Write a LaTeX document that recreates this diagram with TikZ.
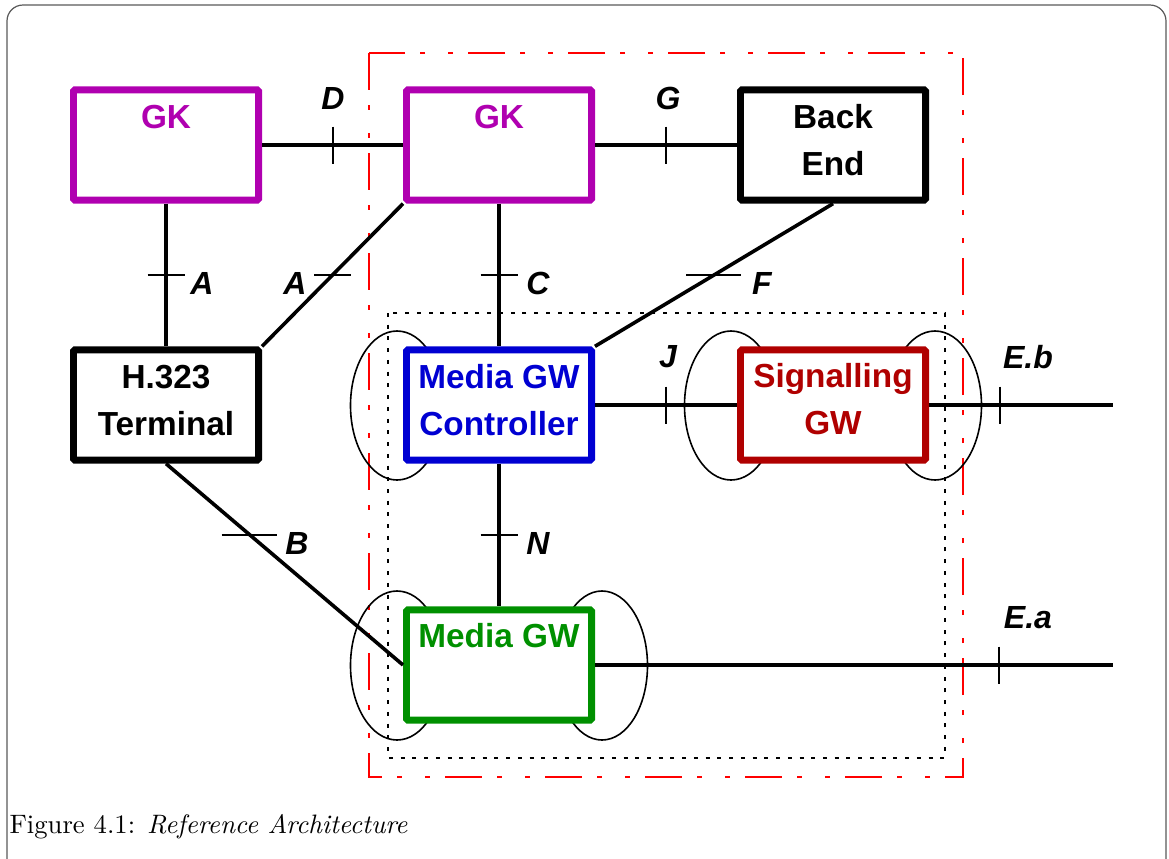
\documentclass[tikz,border=0pt]{standalone}
\usepackage{fontspec}
\newfontfamily\archfont{Liberation Sans}
\usetikzlibrary{positioning}

\definecolor{gkcol}{RGB}{176,0,176}
\definecolor{mgccol}{RGB}{0,0,210}
\definecolor{sigcol}{RGB}{176,0,0}
\definecolor{mgwcol}{RGB}{0,144,0}

\newcommand{\boxfont}{\archfont\bfseries\fontsize{12.5}{17.6}\selectfont}
\newcommand{\reffont}{\archfont\bfseries\itshape\fontsize{12}{14}\selectfont}

\tikzset{
  unit/.style={draw, fill=white, line width=2.6pt, rounded corners=0.6pt,
               minimum width=69.4pt, minimum height=41.4pt, inner sep=0pt},
  unittxt/.style={font=\boxfont, align=center, inner sep=0pt},
  reflbl/.style={font=\reffont, inner sep=0pt},
  conn/.style={line width=1.35pt},
  tick/.style={line width=0.75pt},
  port/.style={line width=0.6pt},
  frame/.style={draw=black!65, line width=0.45pt, rounded corners=6pt}
}

\begin{document}
\begin{tikzpicture}[x=0.375pt,y=-0.375pt]
\useasboundingbox (0,0) rectangle (1169,858);

% outer frame
\draw[frame] (7,5) rectangle (1166,875);

% domains
\draw[red, line width=0.7pt, dash pattern=on 13.9pt off 5.6pt on 1.9pt off 8.6pt on 1.9pt off 5.6pt]
  (369,53) rectangle (963,777);
\draw[line width=0.75pt, dash pattern=on 1.5pt off 2.9pt] (388,313) rectangle (945,758);

% ports
\draw[port] (397,405.5) ellipse [x radius=46.5, y radius=74.5];
\draw[port] (731,405.5) ellipse [x radius=46.5, y radius=74.5];
\draw[port] (935,405.5) ellipse [x radius=46.5, y radius=74.5];
\draw[port] (397,665.5) ellipse [x radius=46.5, y radius=74.5];
\draw[port] (602,665.5) ellipse [x radius=45.5, y radius=74.5];

% units
\node[unit, draw=gkcol] (gkl) at (166,145) {};
\node[unit, draw=gkcol] (gkm) at (499,145) {};
\node[unit] (be) at (833,145) {};
\node[unit] (term) at (166,405) {};
\node[unit, draw=mgccol] (mgc) at (499,405) {};
\node[unit, draw=sigcol] (sig) at (833,405) {};
\node[unit, draw=mgwcol] (mgw) at (499,665) {};

\node[unittxt, gkcol] at (166,117) {GK};
\node[unittxt, gkcol] at (499,117) {GK};
\node[unittxt] at (833,140.5) {Back\\End};
\node[unittxt] at (166,400.5) {H.323\\Terminal};
\node[unittxt, mgccol] at (499,400.5) {Media GW\\Controller};
\node[unittxt, sigcol] at (833,399) {Signalling\\GW};
\node[unittxt, mgwcol] at (499,636) {Media GW};

\coordinate (ebend) at (1113,405);
\coordinate (eaend) at (1113,665);

% interfaces
\draw[conn] (gkl) -- coordinate[pos=.5] (tD) (gkm);
\draw[conn] (gkm) -- coordinate[pos=.5] (tG) (be);
\draw[conn] (gkl.south) -- coordinate[pos=.5] (tA1) (term.north);
\draw[conn] (gkm.south west) -- coordinate[pos=.5] (tA2) (term.north east);
\draw[conn] (gkm.south) -- coordinate[pos=.5] (tC) (mgc.north);
\draw[conn] (be.south) -- coordinate[pos=.5] (tF) (mgc.north east);
\draw[conn] (mgc.east) -- coordinate[pos=.5] (tJ) (sig.west);
\draw[conn] (sig.east) -- coordinate[pos=.385] (tEb) (ebend);
\draw[conn] (mgc.south) -- coordinate[pos=.5] (tN) (mgw.north);
\draw[conn] (term.south) -- coordinate[pos=.353] (tB) (mgw.west);
\draw[conn] (mgw.east) -- coordinate[pos=.78] (tEa) (eaend);

\draw[tick] (tD) ++(0,-18.5) -- ++(0,37);
\draw[tick] (tG) ++(0,-18.5) -- ++(0,37);
\draw[tick] (tJ) ++(0,-18.5) -- ++(0,37);
\draw[tick] (tEb) ++(0,-18.5) -- ++(0,37);
\draw[tick] (tEa) ++(0,-18.5) -- ++(0,37);
\draw[tick] (tA1) ++(-18.5,0) -- ++(37,0);
\draw[tick] (tA2) ++(-18.5,0) -- ++(37,0);
\draw[tick] (tC) ++(-18.5,0) -- ++(37,0);
\draw[tick] (tN) ++(-18.5,0) -- ++(37,0);
\draw[tick] (tF) ++(-28,0) -- ++(55,0);
\draw[tick] (tB) ++(-28,0) -- ++(55,0);

\node[reflbl] at (333,98) {D};
\node[reflbl] at (668,98) {G};
\node[reflbl] at (202,283) {A};
\node[reflbl] at (295,283) {A};
\node[reflbl] at (538,283) {C};
\node[reflbl] at (762,283) {F};
\node[reflbl] at (668,357) {J};
\node[reflbl] at (1028,357) {E.b};
\node[reflbl] at (297,543) {B};
\node[reflbl] at (538,543) {N};
\node[reflbl] at (1028,618) {E.a};

% caption
\node[anchor=base west, inner sep=0pt, font=\fontsize{10}{12}\selectfont] (cap) at (9,833)
  {Figure 4.1: \textit{Reference Architecture}};
\end{tikzpicture}
\end{document}
